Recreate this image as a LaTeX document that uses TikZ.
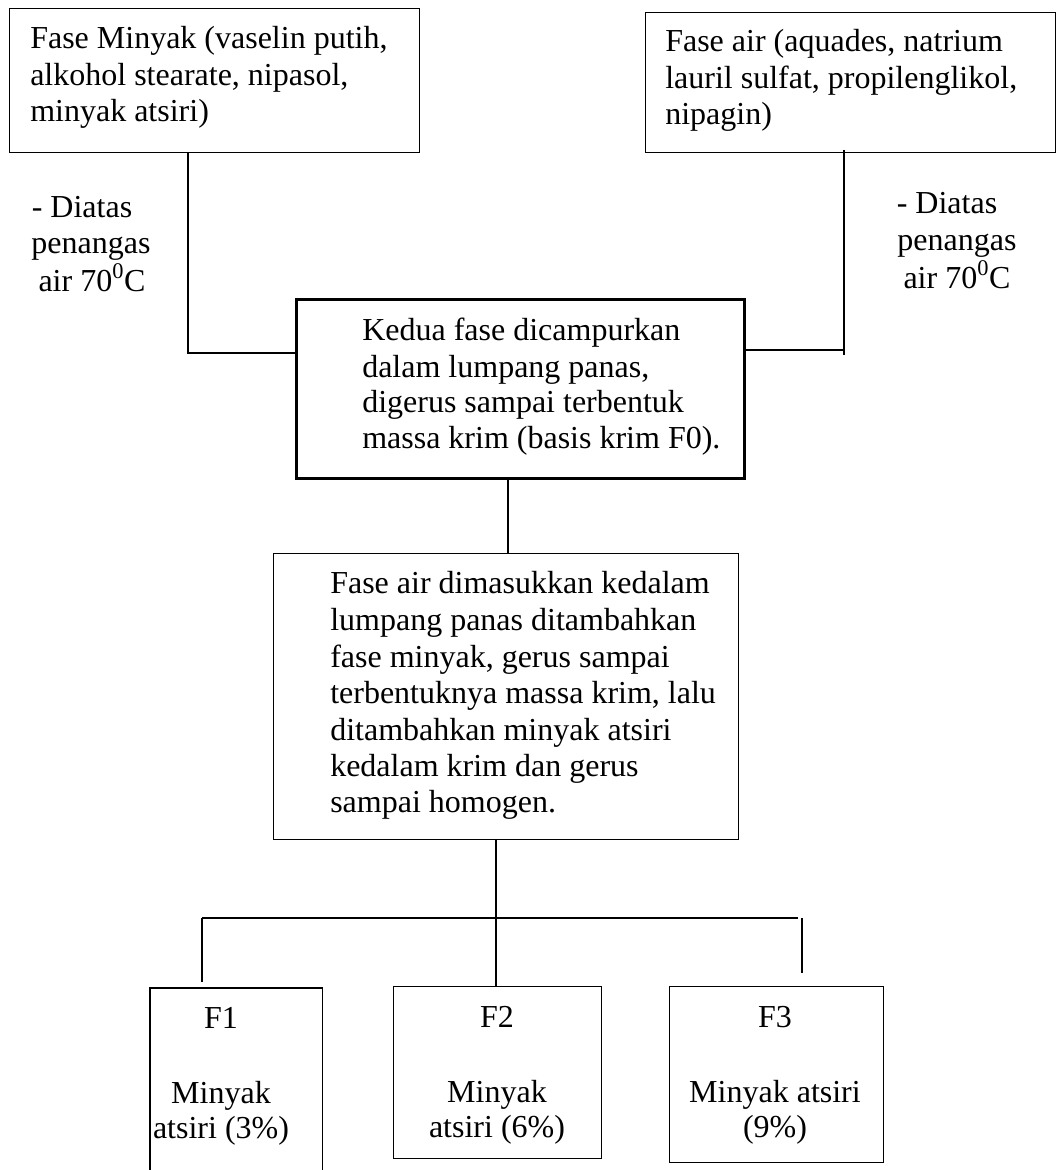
\documentclass[tikz,border=0pt]{standalone}
\usepackage{fontspec}
\setmainfont{Liberation Serif}
\begin{document}
\begin{tikzpicture}[x=0.75pt,y=-0.75pt,
  font=\fontsize{24}{27.4}\selectfont,
  boxthin/.style={draw, line width=1.1pt, inner sep=0pt, anchor=north west},
  boxthick/.style={draw, line width=2pt, inner sep=0pt, anchor=north west},
  link/.style={line width=1.1pt},
  buslink/.style={line width=1.6pt},
  tl/.style={anchor=base west, inner sep=0pt},
  tc/.style={anchor=base, inner sep=0pt}]
\useasboundingbox (0,0) rectangle (1056,1170);
% boxes
\node[boxthin, minimum width=410*0.75pt, minimum height=144*0.75pt] (A) at (9,8) {};
\node[boxthin, minimum width=410*0.75pt, minimum height=140*0.75pt] (C) at (644.5,12) {};
\node[boxthick, minimum width=448*0.75pt, minimum height=179*0.75pt] (B) at (295,298) {};
\node[boxthin, minimum width=465*0.75pt, minimum height=286*0.75pt] (D) at (273,553) {};
\node[inner sep=0pt, anchor=north west, minimum width=172*0.75pt, minimum height=190*0.75pt] (F1) at (150,988) {};
\draw[link] (F1.south west) -- (F1.north west) -- (F1.north east) -- (F1.south east);
\node[boxthin, minimum width=208*0.75pt, minimum height=172*0.75pt] (F2) at (393,986) {};
\node[boxthin, minimum width=214*0.75pt, minimum height=176*0.75pt] (F3) at (669,986) {};
% texts
\node[tl] (a1) at (30,49) {Fase Minyak (vaselin putih,};
\node[tl] (a2) at (30,86) {alkohol stearate, nipasol,};
\node[tl] (a3) at (30,122) {minyak atsiri)};
\node[tl] (c1) at (665,52) {Fase air (aquades, natrium};
\node[tl] (c2) at (665,88.5) {lauril sulfat, propilenglikol,};
\node[tl] (c3) at (665,125) {nipagin)};
\node[tc] (l1) at (82,217) {- Diatas};
\node[tc] (l2) at (91,253) {penangas};
\node[tc] (l3) at (92,291) {air 70\textsuperscript{0}C};
\node[tc] (r1) at (947,213) {- Diatas};
\node[tc] (r2) at (957,250) {penangas};
\node[tc] (r3) at (957,288) {air 70\textsuperscript{0}C};
\node[tl] (b1) at (362,340) {Kedua fase dicampurkan};
\node[tl] (b2) at (362,377) {dalam lumpang panas,};
\node[tl] (b3) at (362,412) {digerus sampai terbentuk};
\node[tl] (b4) at (362,448) {massa krim (basis krim F0).};
\node[tl] (d1) at (330,593) {Fase air dimasukkan kedalam};
\node[tl] (d2) at (330,630) {lumpang panas ditambahkan};
\node[tl] (d3) at (330,667) {fase minyak, gerus sampai};
\node[tl] (d4) at (330,703) {terbentuknya massa krim, lalu};
\node[tl] (d5) at (330,740) {ditambahkan minyak atsiri};
\node[tl] (d6) at (330,776) {kedalam krim dan gerus};
\node[tl] (d7) at (330,812) {sampai homogen.};
\node[tc] (f1a) at (221,1028) {F1};
\node[tc] (f1b) at (221,1103) {Minyak};
\node[tc] (f1c) at (221,1138) {atsiri (3\%)};
\node[tc] (f2a) at (497,1027) {F2};
\node[tc] (f2b) at (497,1102) {Minyak};
\node[tc] (f2c) at (497,1137) {atsiri (6\%)};
\node[tc] (f3a) at (775,1027) {F3};
\node[tc] (f3b) at (775,1102) {Minyak atsiri};
\node[tc] (f3c) at (775,1137) {(9\%)};
% connector joints
\coordinate (lj) at (188,353);
\coordinate (rj) at (844,350);
\coordinate (rtop) at (844,150);
\coordinate (rbot) at (844,355);
\coordinate (busL) at (202,918);
\coordinate (busR) at (798,918);
\coordinate (stubL) at (202,982);
\coordinate (stubRt) at (802,918);
\coordinate (stubRb) at (802,973);
% connectors
\draw[link] (A.south -| lj) -- (lj) -- (lj -| B.west);
\draw[link] (rtop) -- (rbot);
\draw[link] (B.east |- rj) -- (rj);
\draw[link] (B.south -| 508,0) -- (D.north -| 508,0);
\draw[link] (D.south -| 496,0) -- (F2.north -| 496,0);
\draw[buslink] (busL) -- (busR);
\draw[link] (busL) -- (stubL);
\draw[link] (stubRt) -- (stubRb);
\end{tikzpicture}
\end{document}
